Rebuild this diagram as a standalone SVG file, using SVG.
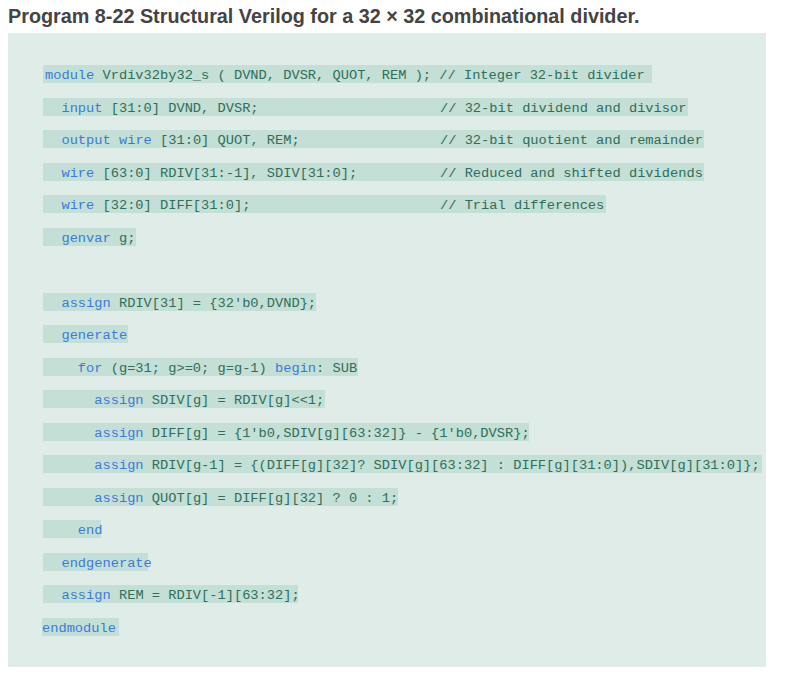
<svg xmlns="http://www.w3.org/2000/svg" width="789" height="685" viewBox="0 0 789 685">
<style>
.t{font-family:"Liberation Sans",Arial,sans-serif;font-weight:bold;font-size:19.8px;fill:#444}
.c{font-family:"Liberation Mono","Courier New",monospace;font-size:13.7px;fill:#2e6e5a;white-space:pre}
.k{fill:#3a7ae0}
.b{fill:#c4dfd5}
</style>
<rect width="789" height="685" fill="#fff"/>
<text class="t" x="8" y="23">Program 8-22 Structural Verilog for a 32 × 32 combinational divider.</text>
<rect x="8" y="33" width="758" height="634" fill="#dfece8"/>
<g id="bars">
<rect class="b" x="43" y="65" width="609" height="18"/>
<rect class="b" x="43" y="98" width="645" height="18"/>
<rect class="b" x="43" y="130" width="661" height="18"/>
<rect class="b" x="43" y="163" width="661" height="18"/>
<rect class="b" x="43" y="195" width="563" height="18"/>
<rect class="b" x="43" y="228" width="93" height="18"/>
<rect class="b" x="43" y="293" width="273" height="18"/>
<rect class="b" x="43" y="325" width="85" height="18"/>
<rect class="b" x="43" y="358" width="315" height="18"/>
<rect class="b" x="43" y="390" width="282" height="18"/>
<rect class="b" x="43" y="423" width="486" height="18"/>
<rect class="b" x="43" y="455" width="719" height="18"/>
<rect class="b" x="43" y="488" width="355" height="18"/>
<rect class="b" x="43" y="520" width="58" height="18"/>
<rect class="b" x="43" y="553" width="105" height="18"/>
<rect class="b" x="43" y="585" width="255" height="18"/>
<rect class="b" x="42" y="618" width="77" height="18"/>
</g>
<g id="code">
<text class="c" x="45" y="79"><tspan class="k">module</tspan> Vrdiv32by32_s ( DVND, DVSR, QUOT, REM ); // Integer 32-bit divider</text>
<text class="c" x="45" y="112">  <tspan class="k">input</tspan> [31:0] DVND, DVSR;</text>
<text class="c" x="440" y="112">// 32-bit dividend and divisor</text>
<text class="c" x="45" y="144">  <tspan class="k">output</tspan> <tspan class="k">wire</tspan> [31:0] QUOT, REM;</text>
<text class="c" x="440" y="144">// 32-bit quotient and remainder</text>
<text class="c" x="45" y="177">  <tspan class="k">wire</tspan> [63:0] RDIV[31:-1], SDIV[31:0];</text>
<text class="c" x="440" y="177">// Reduced and shifted dividends</text>
<text class="c" x="45" y="209">  <tspan class="k">wire</tspan> [32:0] DIFF[31:0];</text>
<text class="c" x="440" y="209">// Trial differences</text>
<text class="c" x="45" y="242">  <tspan class="k">genvar</tspan> g;</text>
<text class="c" x="45" y="307">  <tspan class="k">assign</tspan> RDIV[31] = {32'b0,DVND};</text>
<text class="c" x="45" y="339">  <tspan class="k">generate</tspan></text>
<text class="c" x="45" y="372">    <tspan class="k">for</tspan> (g=31; g>=0; g=g-1) <tspan class="k">begin</tspan>: SUB</text>
<text class="c" x="45" y="404">      <tspan class="k">assign</tspan> SDIV[g] = RDIV[g]&lt;&lt;1;</text>
<text class="c" x="45" y="437">      <tspan class="k">assign</tspan> DIFF[g] = {1'b0,SDIV[g][63:32]} - {1'b0,DVSR};</text>
<text class="c" x="45" y="469">      <tspan class="k">assign</tspan> RDIV[g-1] = {(DIFF[g][32]? SDIV[g][63:32] : DIFF[g][31:0]),SDIV[g][31:0]};</text>
<text class="c" x="45" y="502">      <tspan class="k">assign</tspan> QUOT[g] = DIFF[g][32] ? 0 : 1;</text>
<text class="c" x="45" y="534">    <tspan class="k">end</tspan></text>
<text class="c" x="45" y="567">  <tspan class="k">endgenerate</tspan></text>
<text class="c" x="45" y="599">  <tspan class="k">assign</tspan> REM = RDIV[-1][63:32];</text>
<text class="c k" x="42" y="632">endmodule</text>
</g>
</svg>
